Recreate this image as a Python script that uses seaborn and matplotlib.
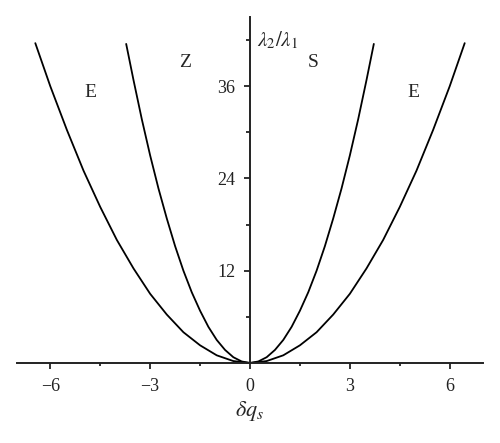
import numpy as np
import pandas as pd
import seaborn as sns
import matplotlib.pyplot as plt
from matplotlib.ticker import MultipleLocator

# values (right half, curves are mirrored about 0)
outer_x = [0, 0.5, 1, 1.5, 2, 2.5, 3, 3.5, 4, 4.5, 5, 5.5, 6, 6.45]
outer_y = [0, 0.25, 1, 2.3, 4, 6.3, 9, 12.3, 16, 20.3, 25, 30.3, 36, 41.6]
inner_x = [0, 0.25, 0.5, 0.75, 1, 1.25, 1.5, 1.75, 2, 2.25, 2.5, 2.75, 3, 3.25, 3.5, 3.72]
inner_y = [0, 0.2, 0.75, 1.7, 3, 4.7, 6.8, 9.2, 12, 15.2, 18.8, 22.7, 27, 31.7, 36.8, 41.5]

region_labels = ["E", "Z", "S", "E"]
region_x = [-4.8, -1.95, 1.9, 4.9]
region_y = [35.2, 39.1, 39.1, 35.2]

sns.set_style("ticks")
plt.rcParams['font.family'] = ['Liberation Serif', 'DejaVu Serif']
plt.rcParams['mathtext.fontset'] = 'stix'

curves = []
for name, xs, ys in [("outer", outer_x, outer_y), ("inner", inner_x, inner_y)]:
    xs = np.array(xs)
    ys = np.array(ys)
    full_x = np.concatenate([-xs[::-1], xs[1:]])
    full_y = np.concatenate([ys[::-1], ys[1:]])
    curves.append(pd.DataFrame({"x": full_x, "y": full_y, "curve": name}))
data = pd.concat(curves, ignore_index=True)

fig = plt.figure(figsize=(5, 4.43), dpi=100)
ax = fig.add_axes([0.034, 0.1806, 0.932, 0.781])

sns.lineplot(data=data, x="x", y="y", units="curve", estimator=None, sort=False,
             color="black", linewidth=1.3, ax=ax)

ax.set_xlim(-7, 7)
ax.set_ylim(0, 45)
ax.spines['left'].set_position(('data', 0))
ax.spines['right'].set_visible(False)
ax.spines['top'].set_visible(False)
for s in ['left', 'bottom']:
    ax.spines[s].set_linewidth(1.4)
    ax.spines[s].set_color('#222222')

ax.set_xticks([-6, -3, 0, 3, 6])
ax.set_xticklabels(["\u22126", "\u22123", "0", "3", "6"])
ax.xaxis.set_minor_locator(MultipleLocator(1.5))
ax.set_yticks([12, 24, 36])
ax.yaxis.set_minor_locator(MultipleLocator(6))
ax.tick_params(axis='x', which='major', length=4.5, width=1.3, pad=6, labelsize=13,
               direction='out', colors='#222222')
ax.tick_params(axis='x', which='minor', length=2.5, width=1.3, direction='out', colors='#222222')
ax.tick_params(axis='y', which='major', length=4.5, width=1.3, pad=6, labelsize=13,
               direction='out', colors='#222222')
ax.tick_params(axis='y', which='minor', length=3, width=1.3, direction='out', colors='#222222')

ax.set_xlabel("")
ax.set_ylabel("")
ax.text(0, -6.2, r"$\delta q_s$", ha="center", va="center", fontsize=16, clip_on=False)
ax.text(0.2, 42, r"$\lambda_2/\lambda_1$", ha="left", va="center", fontsize=15)

for lab, tx, ty in zip(region_labels, region_x, region_y):
    ax.text(tx, ty, lab, ha="center", va="center", fontsize=14)

fig.savefig("out.png", dpi=100)
